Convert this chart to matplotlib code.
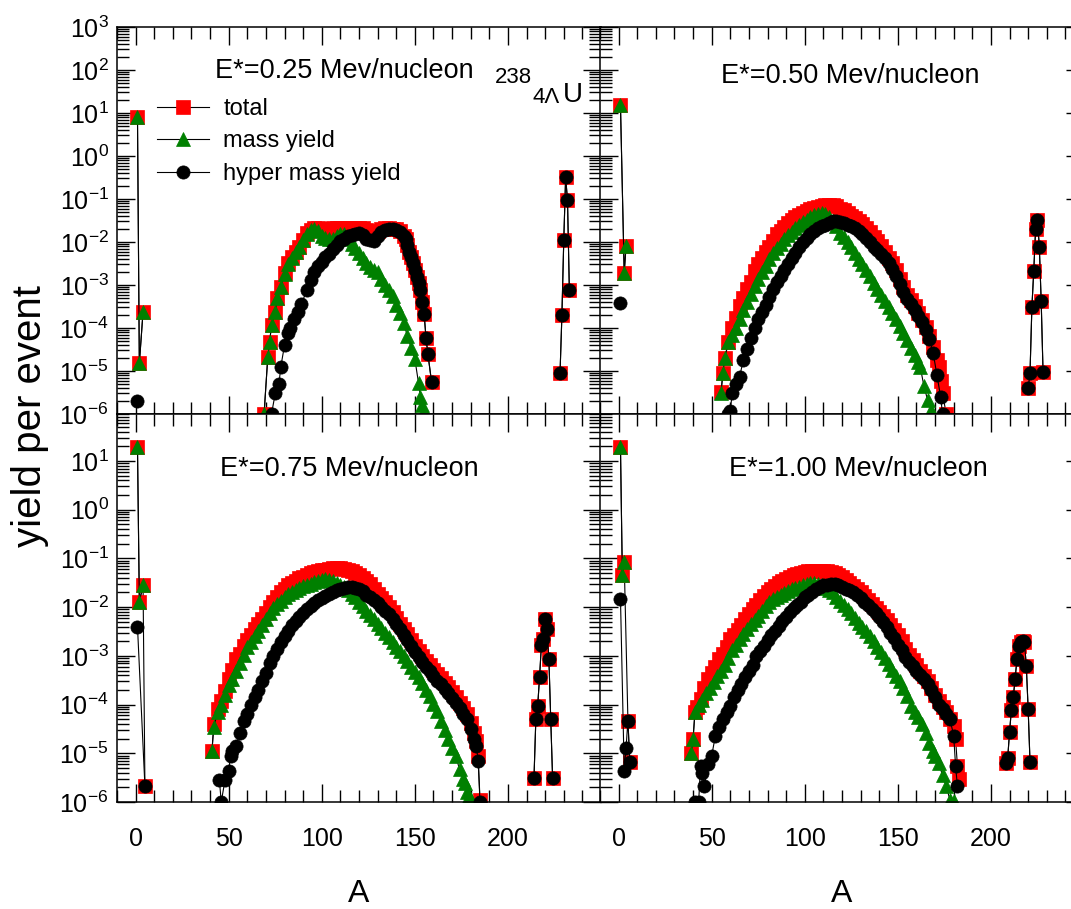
import matplotlib.pyplot as plt
import numpy as np
from matplotlib.ticker import FixedLocator, LogLocator, MultipleLocator, NullFormatter

plt.rcParams['font.family'] = ['Liberation Sans', 'DejaVu Sans']
plt.rcParams['mathtext.fontset'] = 'custom'
plt.rcParams['mathtext.rm'] = 'Liberation Sans'
plt.rcParams['mathtext.default'] = 'regular'
plt.rcParams['axes.linewidth'] = 1.1

# ---- E* = 0.25 MeV/nucleon ----
A_025_TOT = [1, 2, 4,
             69, 71, 72, 73, 75, 76, 78,
             80, 82, 84, 86, 88, 90, 92, 94, 96, 98, 100, 102, 104, 106, 108, 110, 112, 114, 116, 118,
             120, 122, 124, 126, 128, 130, 132, 134, 136, 138, 140, 142, 144,
             145, 146, 147, 148, 149, 150, 151, 152, 153, 154, 155, 156, 157, 159,
             228, 229, 230, 231, 232, 233]
Y_025_TOT = [8.0, 1.5e-5, 2.4e-4,
             1.0e-6, 2.1e-5, 4.7e-5, 1.2e-4, 2.3e-4, 5.0e-4, 8.9e-4,
             1.9e-3, 3.2e-3, 4.5e-3, 6.0e-3, 7.5e-3, 1.1e-2, 1.6e-2, 1.9e-2, 2.1e-2, 2.1e-2,
             2.0e-2, 1.9e-2, 2.0e-2, 2.1e-2, 2.1e-2, 2.15e-2, 2.15e-2, 2.15e-2, 2.15e-2, 2.1e-2,
             2.1e-2, 2.1e-2, 1.9e-2, 1.7e-2, 1.6e-2, 1.8e-2, 2.0e-2, 2.1e-2, 2.1e-2, 2.05e-2, 2.0e-2, 1.8e-2, 1.4e-2,
             1.2e-2, 8.5e-3, 6.0e-3, 4.5e-3, 3.2e-3, 2.2e-3, 1.5e-3, 1.1e-3, 7.6e-4, 4.0e-4, 2.1e-4, 5.8e-5, 2.5e-5, 5.5e-6,
             9.0e-6, 2.0e-4, 1.1e-2, 0.32, 9.5e-2, 7.6e-4]
A_025_MASS = [1, 2, 4,
              69, 71, 72, 73, 75, 76, 78,
              80, 82, 84, 86, 88, 90, 92, 94, 96, 98, 100, 102, 104, 106, 108, 110, 112, 114, 116, 118,
              120, 122, 124, 126, 128, 130, 132, 134, 136, 138, 140, 142, 144, 146, 148, 150, 152,
              153, 154, 155]
Y_025_MASS = [8.0, 1.5e-5, 2.4e-4,
              1.0e-6, 2.1e-5, 4.7e-5, 1.2e-4, 2.3e-4, 5.0e-4, 8.9e-4,
              1.8e-3, 3.0e-3, 4.3e-3, 5.8e-3, 7.5e-3, 1.1e-2, 1.5e-2, 1.9e-2, 2.0e-2, 1.8e-2,
              1.4e-2, 1.25e-2, 1.2e-2, 1.15e-2, 1.35e-2, 1.5e-2, 1.5e-2, 1.2e-2, 9.0e-3, 7.2e-3,
              5.5e-3, 4.2e-3, 3.2e-3, 2.6e-3, 2.2e-3, 2.0e-3, 1.4e-3, 1.0e-3, 7.5e-4, 5.5e-4,
              3.5e-4, 2.2e-4, 1.3e-4, 6.5e-5, 3.5e-5, 1.9e-5, 5.2e-6,
              2.5e-6, 1.6e-6, 1.2e-6]
A_025_HYP = [1,
             73, 75, 77, 78, 80, 82, 83, 85, 87, 89, 92, 94,
             96, 98, 100, 102, 104, 106, 108, 110, 112, 114, 116, 118, 120, 122, 124, 126, 128,
             130, 132, 134, 136, 138, 140, 142, 144,
             145, 146, 147, 148, 149, 150, 151, 152, 153, 154, 155, 156, 157, 159,
             228, 229, 230, 231, 232, 233]
Y_025_HYP = [2.0e-6,
             1.0e-6, 3.0e-6, 5.0e-6, 1.26e-5, 4.0e-5, 7.5e-5, 1.0e-4, 1.6e-4, 2.3e-4, 3.6e-4, 7.6e-4, 1.3e-3,
             2.0e-3, 2.8e-3, 3.5e-3, 4.5e-3, 5.4e-3, 7.0e-3, 8.5e-3, 1.05e-2, 1.2e-2, 1.35e-2, 1.45e-2, 1.55e-2,
             1.6e-2, 1.45e-2, 1.2e-2, 1.1e-2, 1.07e-2,
             1.4e-2, 1.7e-2, 1.9e-2, 2.0e-2, 2.0e-2, 1.9e-2, 1.75e-2, 1.35e-2,
             1.2e-2, 8.5e-3, 6.0e-3, 4.5e-3, 3.2e-3, 2.2e-3, 1.5e-3, 1.1e-3, 7.6e-4, 4.0e-4, 2.1e-4, 5.8e-5, 2.5e-5, 5.5e-6,
             9.0e-6, 2.0e-4, 1.1e-2, 0.32, 9.5e-2, 7.6e-4]

# ---- E* = 0.50 MeV/nucleon ----
A_050_TOT = [1, 3, 4,
             55, 56, 57,
             59, 61, 63, 65, 67, 69, 71, 73, 75, 77, 79, 81, 83, 85, 87, 89, 91, 93, 95, 97,
             99, 101, 103, 105, 107, 109, 111, 113, 115, 117, 119, 121, 123, 125, 127, 129, 131, 133, 135, 137,
             139, 141, 143, 145, 147, 149, 151, 153, 155, 157, 159, 161, 163, 165, 167, 169, 171,
             172, 173, 174, 176,
             220, 221, 222, 223, 224, 225, 226, 227, 228]
Y_050_TOT = [15.0, 1.9e-3, 8.0e-3,
             3.2e-6, 8.9e-6, 2.0e-5,
             4.7e-5, 1.0e-4, 1.7e-4, 3.2e-4, 5.0e-4, 8.0e-4, 1.2e-3, 2.1e-3, 3.0e-3, 4.2e-3,
             5.8e-3, 7.5e-3, 1.05e-2, 1.5e-2, 1.8e-2, 2.2e-2, 2.8e-2, 3.2e-2, 3.8e-2, 4.2e-2,
             4.7e-2, 5.2e-2, 5.8e-2, 6.2e-2, 6.6e-2, 7.0e-2, 7.3e-2, 7.4e-2, 7.2e-2, 6.7e-2,
             6.0e-2, 5.5e-2, 4.8e-2, 4.1e-2, 3.6e-2, 3.1e-2, 2.6e-2, 2.1e-2, 1.7e-2, 1.3e-2,
             1.05e-2, 8.0e-3, 6.0e-3, 4.2e-3, 3.3e-3, 2.2e-3, 1.4e-3, 9.0e-4, 6.0e-4, 4.5e-4,
             3.2e-4, 2.2e-4, 1.5e-4, 1.05e-4, 6.5e-5, 3.6e-5, 1.8e-5,
             1.26e-5, 6.0e-6, 3.0e-6, 1.0e-6,
             4.0e-6, 8.9e-6, 3.0e-4, 2.1e-3, 2.0e-2, 3.3e-2, 7.8e-3, 4.2e-4, 9.5e-6]
A_050_MASS = [1, 3, 4,
              55, 56, 57,
              59, 61, 63, 65, 67, 69, 71, 73, 75, 77, 79, 81, 83, 85, 87, 89, 91, 93, 95, 97,
              99, 101, 103, 105, 107, 109, 111, 113, 115, 117, 119, 121, 123, 125, 127, 129, 131, 133, 135, 137,
              139, 141, 143, 145, 147, 149, 151, 153, 155, 157, 159, 161,
              162, 164, 166, 168]
Y_050_MASS = [15.0, 1.9e-3, 8.0e-3,
              3.0e-6, 8.9e-6, 2.0e-5,
              4.7e-5, 7.0e-5, 1.0e-4, 1.6e-4, 2.6e-4, 4.0e-4, 6.3e-4, 9.5e-4, 1.4e-3, 2.0e-3,
              2.8e-3, 4.0e-3, 5.5e-3, 7.2e-3, 9.0e-3, 1.15e-2, 1.45e-2, 1.75e-2, 2.1e-2, 2.5e-2,
              2.9e-2, 3.2e-2, 3.8e-2, 4.2e-2, 4.5e-2, 4.7e-2, 4.5e-2, 3.8e-2, 3.0e-2, 2.3e-2,
              1.6e-2, 1.3e-2, 1.0e-2, 7.5e-3, 5.5e-3, 4.0e-3, 3.0e-3, 2.2e-3, 1.6e-3, 1.1e-3,
              8.0e-4, 6.0e-4, 4.2e-4, 3.0e-4, 2.2e-4, 1.6e-4, 1.1e-4, 7.5e-5, 5.4e-5, 3.5e-5,
              2.4e-5, 1.6e-5,
              1.26e-5, 4.5e-6, 2.1e-6, 1.26e-6]
A_050_HYP = [1,
             59, 60, 61,
             63, 65, 67, 69, 71, 73, 75, 77, 79, 81, 83, 85, 87, 89, 91, 93, 95, 97, 99, 101,
             103, 105, 107, 109, 111, 113, 115, 117, 119, 121, 123, 125, 127, 129, 131, 133, 135, 137, 139, 141,
             143, 145, 147, 149, 151, 153, 155, 157, 159, 161, 163, 165, 167, 169, 171, 173,
             174,
             220, 221, 222, 223, 224, 225, 226, 227, 228]
Y_050_HYP = [3.9e-4,
             1.0e-6, 1.2e-6, 3.0e-6,
             5.0e-6, 7.4e-6, 1.8e-5, 3.2e-5, 6.0e-5, 1.0e-4, 1.6e-4, 2.4e-4, 3.5e-4, 5.2e-4,
             8.0e-4, 1.15e-3, 1.6e-3, 2.2e-3, 3.0e-3, 4.2e-3, 5.5e-3, 7.5e-3, 1.0e-2, 1.25e-2,
             1.5e-2, 1.8e-2, 2.1e-2, 2.3e-2, 2.5e-2, 2.8e-2, 3.0e-2, 3.0e-2, 2.9e-2, 2.7e-2,
             2.5e-2, 2.3e-2, 2.1e-2, 1.8e-2, 1.5e-2, 1.25e-2, 1.0e-2, 7.8e-3, 6.5e-3, 5.3e-3,
             4.3e-3, 3.2e-3, 2.4e-3, 1.6e-3, 1.05e-3, 7.0e-4, 4.7e-4, 3.6e-4, 2.6e-4, 1.9e-4,
             1.4e-4, 9.0e-5, 5.5e-5, 2.6e-5, 8.0e-6, 2.5e-6,
             1.0e-6,
             4.0e-6, 8.9e-6, 3.0e-4, 2.1e-3, 2.0e-2, 3.3e-2, 7.8e-3, 4.2e-4, 9.5e-6]

# ---- E* = 0.75 MeV/nucleon ----
A_075_TOT = [1, 2, 4, 5,
             41, 42,
             44, 46, 48, 50, 52, 54, 56, 58, 60, 62, 64, 66, 68, 70, 72, 74, 76, 78, 80, 82,
             84, 86, 88, 90, 92, 94, 96, 98, 100, 102, 104, 106, 108, 110, 112, 114, 116, 118, 120, 122,
             124, 126, 128, 130, 132, 134, 136, 138, 140, 142, 144, 146, 148, 150, 152, 154, 156, 158, 160, 162,
             164, 166, 168, 170, 172, 174, 176, 178, 180, 182,
             183, 184, 185,
             214, 215, 216, 217, 218, 219, 220, 221, 222, 223, 224]
Y_075_TOT = [19.5, 1.3e-2, 2.8e-2, 2.1e-6,
             1.1e-5, 4.0e-5,
             8.0e-5, 1.2e-4, 1.9e-4, 3.4e-4, 5.2e-4, 8.7e-4, 1.1e-3, 1.6e-3, 2.1e-3, 2.7e-3,
             3.5e-3, 4.4e-3, 5.7e-3, 7.5e-3, 1.0e-2, 1.3e-2, 1.6e-2, 2.0e-2, 2.4e-2, 2.8e-2,
             3.1e-2, 3.5e-2, 3.9e-2, 4.2e-2, 4.5e-2, 4.9e-2, 5.2e-2, 5.5e-2, 5.7e-2, 5.9e-2,
             6.2e-2, 6.4e-2, 6.5e-2, 6.4e-2, 6.2e-2, 5.8e-2, 5.4e-2, 5.0e-2, 4.5e-2, 3.9e-2,
             3.5e-2, 3.0e-2, 2.4e-2, 1.9e-2, 1.55e-2, 1.25e-2, 1.0e-2, 7.8e-3, 6.0e-3, 4.6e-3,
             3.5e-3, 2.8e-3, 2.1e-3, 1.6e-3, 1.25e-3, 1.0e-3, 8.0e-4, 6.5e-4, 5.2e-4, 4.2e-4,
             3.5e-4, 2.8e-4, 2.3e-4, 1.8e-4, 1.45e-4, 1.1e-4, 8.5e-5, 6.5e-5, 4.2e-5, 2.6e-5,
             1.8e-5, 9.0e-6, 1.1e-6,
             3.1e-6, 5.0e-5, 9.5e-5, 3.7e-4, 1.7e-3, 2.2e-3, 5.8e-3, 3.5e-3, 8.7e-4, 5.0e-5, 3.1e-6]
A_075_MASS = [1, 2, 4,
              41, 42,
              44, 46, 48, 50, 52, 54, 56, 58, 60, 62, 64, 66, 68, 70, 72, 74, 76, 78, 80, 82,
              84, 86, 88, 90, 92, 94, 96, 98, 100, 102, 104, 106, 108, 110, 112, 114, 116, 118, 120, 122,
              124, 126, 128, 130, 132, 134, 136, 138, 140, 142, 144, 146, 148, 150, 152, 154, 156, 158, 160, 162,
              164, 166, 168, 170, 172, 174, 176,
              177, 178, 179]
Y_075_MASS = [19.5, 1.3e-2, 2.8e-2,
              1.1e-5, 3.5e-5,
              6.9e-5, 1.0e-4, 1.6e-4, 2.5e-4, 3.3e-4, 4.8e-4, 7.0e-4, 1.05e-3, 1.5e-3, 1.9e-3,
              2.5e-3, 3.2e-3, 4.2e-3, 5.8e-3, 7.5e-3, 9.5e-3, 1.15e-2, 1.35e-2, 1.6e-2, 1.85e-2,
              2.05e-2, 2.25e-2, 2.45e-2, 2.65e-2, 2.85e-2, 3.05e-2, 3.25e-2, 3.45e-2, 3.6e-2, 3.7e-2,
              3.6e-2, 3.5e-2, 3.2e-2, 2.9e-2, 2.6e-2, 2.2e-2, 1.85e-2, 1.6e-2, 1.3e-2, 1.05e-2,
              8.5e-3, 7.0e-3, 5.7e-3, 4.6e-3, 3.7e-3, 3.0e-3, 2.4e-3, 1.9e-3, 1.5e-3, 1.25e-3,
              1.0e-3, 7.8e-4, 6.0e-4, 4.6e-4, 3.6e-4, 2.8e-4, 2.0e-4, 1.5e-4, 1.05e-4, 7.5e-5,
              4.6e-5, 3.0e-5, 2.0e-5, 1.3e-5, 8.7e-6, 4.7e-6, 3.0e-6,
              2.5e-6, 1.6e-6, 1.3e-6]
A_075_HYP = [1, 5,
             45, 46, 48, 50, 51,
             52, 54, 56, 58, 60, 62, 64, 66, 68, 70, 72, 74, 76, 78, 80, 82, 84, 86, 88, 90,
             92, 94, 96, 98, 100, 102, 104, 106, 108, 110, 112, 114, 116, 118, 120, 122, 124, 126, 128, 130,
             132, 134, 136, 138, 140, 142, 144, 146, 148, 150, 152, 154, 156, 158, 160, 162, 164, 166, 168, 170,
             172, 174, 176, 178, 180, 182,
             183, 184, 185,
             214, 215, 216, 217, 218, 219, 220, 221, 222, 223, 224]
Y_075_HYP = [4.0e-3, 2.1e-6,
             2.8e-6, 1.0e-6, 2.8e-6, 4.4e-6, 8.9e-6,
             1.1e-5, 1.4e-5, 2.6e-5, 4.5e-5, 6.5e-5, 1.0e-4, 1.4e-4, 2.0e-4, 3.0e-4, 4.5e-4,
             7.0e-4, 1.0e-3, 1.4e-3, 1.9e-3, 2.5e-3, 3.3e-3, 4.2e-3, 5.2e-3, 6.3e-3, 7.6e-3,
             9.0e-3, 1.05e-2, 1.2e-2, 1.4e-2, 1.55e-2, 1.7e-2, 1.85e-2, 2.0e-2, 2.2e-2, 2.35e-2,
             2.45e-2, 2.55e-2, 2.6e-2, 2.5e-2, 2.35e-2, 2.1e-2, 1.8e-2, 1.6e-2, 1.4e-2, 1.2e-2,
             1.0e-2, 8.5e-3, 7.2e-3, 5.8e-3, 4.6e-3, 3.5e-3, 2.7e-3, 2.1e-3, 1.6e-3, 1.2e-3,
             9.5e-4, 7.5e-4, 6.0e-4, 4.8e-4, 3.8e-4, 3.1e-4, 2.6e-4, 2.1e-4, 1.7e-4, 1.35e-4,
             1.1e-4, 8.5e-5, 6.5e-5, 5.0e-5, 3.2e-5, 2.0e-5,
             1.4e-5, 7.0e-6, 1.0e-6,
             3.1e-6, 5.0e-5, 9.5e-5, 3.7e-4, 1.7e-3, 2.2e-3, 5.8e-3, 3.5e-3, 8.7e-4, 5.0e-5, 3.1e-6]

# ---- E* = 1.00 MeV/nucleon ----
A_100_TOT = [1, 2, 3, 5, 6,
             39, 40, 41,
             42, 44, 46, 48, 50, 52, 54, 56, 58, 60, 62, 64, 66, 68, 70, 72, 74, 76, 78, 80,
             82, 84, 86, 88, 90, 92, 94, 96, 98, 100, 102, 104, 106, 108, 110, 112, 114, 116, 118, 120,
             122, 124, 126, 128, 130, 132, 134, 136, 138, 140, 142, 144, 146, 148, 150, 152, 154, 156, 158, 160,
             162, 164, 166, 168, 170, 172, 174, 176, 178, 180,
             181, 182, 183,
             208, 209, 210, 211, 212, 213, 214, 215, 216, 217, 218, 219, 220, 221]
Y_100_TOT = [19.0, 4.5e-2, 8.5e-2, 4.7e-5, 6.6e-6,
             1.0e-5, 2.0e-5, 6.9e-5,
             9.0e-5, 1.3e-4, 2.2e-4, 3.3e-4, 4.4e-4, 6.0e-4, 8.5e-4, 1.1e-3, 1.5e-3, 2.2e-3,
             2.7e-3, 3.4e-3, 4.3e-3, 5.8e-3, 7.2e-3, 9.0e-3, 1.1e-2, 1.4e-2, 1.7e-2, 2.0e-2,
             2.3e-2, 2.7e-2, 3.1e-2, 3.4e-2, 3.8e-2, 4.1e-2, 4.5e-2, 4.8e-2, 5.1e-2, 5.3e-2,
             5.5e-2, 5.6e-2, 5.6e-2, 5.6e-2, 5.5e-2, 5.5e-2, 5.3e-2, 5.0e-2, 4.6e-2, 4.1e-2,
             3.6e-2, 3.1e-2, 2.7e-2, 2.3e-2, 2.0e-2, 1.7e-2, 1.4e-2, 1.15e-2, 9.7e-3, 8.0e-3,
             6.6e-3, 5.4e-3, 4.2e-3, 3.4e-3, 2.7e-3, 2.0e-3, 1.4e-3, 1.05e-3, 8.2e-4, 6.5e-4,
             5.0e-4, 3.9e-4, 3.0e-4, 2.2e-4, 1.6e-4, 1.2e-4, 9.0e-5, 6.9e-5, 5.0e-5, 3.7e-5,
             2.0e-5, 5.6e-6, 3.0e-6,
             6.3e-6, 7.9e-6, 2.7e-5, 7.9e-5, 1.4e-4, 3.4e-4, 8.7e-4, 1.6e-3, 1.9e-3, 2.0e-3,
             1.9e-3, 6.3e-4, 8.1e-5, 6.6e-6]
A_100_MASS = [1, 2, 3,
              39, 40, 41,
              43, 45, 47, 49, 51, 53, 55, 57, 59, 61, 63, 65, 67, 69, 71, 73, 75, 77, 79, 81,
              83, 85, 87, 89, 91, 93, 95, 97, 99, 101, 103, 105, 107, 109, 111, 113, 115, 117, 119, 121,
              123, 125, 127, 129, 131, 133, 135, 137, 139, 141, 143, 145, 147, 149, 151, 153, 155, 157, 159, 161,
              163, 165, 167, 169,
              170, 172, 174, 176, 178, 180]
Y_100_MASS = [19.0, 4.5e-2, 8.5e-2,
              1.0e-5, 2.0e-5, 6.9e-5,
              1.0e-4, 1.26e-4, 1.7e-4, 2.2e-4, 2.9e-4, 3.8e-4, 5.0e-4, 6.5e-4, 9.0e-4, 1.3e-3,
              1.7e-3, 2.2e-3, 2.8e-3, 3.5e-3, 4.4e-3, 5.5e-3, 6.7e-3, 8.5e-3, 1.05e-2, 1.25e-2,
              1.45e-2, 1.6e-2, 1.75e-2, 1.95e-2, 2.1e-2, 2.3e-2, 2.45e-2, 2.6e-2, 2.8e-2, 3.0e-2,
              3.2e-2, 3.2e-2, 3.0e-2, 2.8e-2, 2.5e-2, 2.25e-2, 2.0e-2, 1.6e-2, 1.35e-2, 1.1e-2,
              9.3e-3, 7.5e-3, 6.0e-3, 4.8e-3, 4.0e-3, 3.2e-3, 2.6e-3, 2.0e-3, 1.5e-3, 1.2e-3,
              9.0e-4, 6.8e-4, 5.2e-4, 3.9e-4, 3.0e-4, 2.2e-4, 1.5e-4, 9.5e-5, 7.0e-5, 5.5e-5,
              4.0e-5, 2.6e-5, 1.6e-5, 1.1e-5,
              8.9e-6, 6.3e-6, 3.5e-6, 2.1e-6, 1.1e-6, 1.05e-6]
A_100_HYP = [1, 3, 4, 5, 6,
             41, 43, 44, 45, 46,
             48, 50, 52, 54, 56, 58, 60, 62, 64, 66, 68, 70, 72, 74, 76, 78, 80, 82, 84, 86,
             88, 90, 92, 94, 96, 98, 100, 102, 104, 106, 108, 110, 112, 114, 116, 118, 120, 122, 124, 126,
             128, 130, 132, 134, 136, 138, 140, 142, 144, 146, 148, 150, 152, 154, 156, 158, 160, 162, 164, 166,
             168, 170, 172, 174, 176, 178, 180,
             181, 182,
             208, 209, 210, 211, 212, 213, 214, 215, 216, 217, 218, 219, 220, 221]
Y_100_HYP = [1.5e-2, 4.4e-6, 1.3e-5, 4.7e-5, 6.6e-6,
             1.0e-6, 1.0e-6, 5.6e-6, 4.0e-6, 2.1e-6,
             6.0e-6, 8.9e-6, 2.3e-5, 3.5e-5, 5.0e-5, 7.0e-5, 9.5e-5, 1.4e-4, 2.0e-4, 2.7e-4,
             3.6e-4, 4.8e-4, 6.5e-4, 1.0e-3, 1.25e-3, 1.6e-3, 2.1e-3, 2.7e-3, 3.3e-3, 4.1e-3,
             5.1e-3, 6.3e-3, 7.9e-3, 9.5e-3, 1.1e-2, 1.3e-2, 1.6e-2, 1.8e-2, 2.0e-2, 2.3e-2,
             2.6e-2, 2.8e-2, 2.9e-2, 3.0e-2, 3.0e-2, 2.8e-2, 2.6e-2, 2.4e-2, 2.2e-2, 2.0e-2,
             1.75e-2, 1.55e-2, 1.3e-2, 1.1e-2, 9.0e-3, 7.7e-3, 6.3e-3, 5.0e-3, 3.9e-3, 3.0e-3,
             2.3e-3, 1.7e-3, 1.3e-3, 9.5e-4, 7.5e-4, 6.2e-4, 5.0e-4, 4.0e-4, 3.4e-4, 2.6e-4,
             2.0e-4, 1.4e-4, 1.0e-4, 8.0e-5, 6.5e-5, 5.0e-5, 2.3e-5,
             5.6e-6, 2.1e-6,
             6.3e-6, 7.9e-6, 2.7e-5, 7.9e-5, 1.4e-4, 3.4e-4, 8.7e-4, 1.6e-3, 1.9e-3, 2.0e-3,
             1.9e-3, 6.3e-4, 8.1e-5, 6.6e-6]

TITLES = ['E*=0.25 Mev/nucleon', 'E*=0.50 Mev/nucleon', 'E*=0.75 Mev/nucleon', 'E*=1.00 Mev/nucleon']
SERIES_NAMES = ['total', 'mass yield', 'hyper mass yield']
X_TICKS = [0, 50, 100, 150, 200]

DATA = [
    [(A_025_TOT, Y_025_TOT), (A_025_MASS, Y_025_MASS), (A_025_HYP, Y_025_HYP)],
    [(A_050_TOT, Y_050_TOT), (A_050_MASS, Y_050_MASS), (A_050_HYP, Y_050_HYP)],
    [(A_075_TOT, Y_075_TOT), (A_075_MASS, Y_075_MASS), (A_075_HYP, Y_075_HYP)],
    [(A_100_TOT, Y_100_TOT), (A_100_MASS, Y_100_MASS), (A_100_HYP, Y_100_HYP)],
]

# marker style per series: total, mass yield, hyper mass yield
STYLES = [dict(marker='s', ms=9.5, color='#ff0000'),
          dict(marker='^', ms=10.5, color='#008000'),
          dict(marker='o', ms=9.5, color='black')]


def draw_series(ax, a, y, style):
    """plot one series, breaking the line between separated groups of A"""
    a = np.asarray(a, dtype=float)
    y = np.asarray(y, dtype=float)
    cuts = np.where(np.diff(a) > 5)[0] + 1
    first = None
    for aa, yy in zip(np.split(a, cuts), np.split(y, cuts)):
        ln, = ax.plot(aa, yy, color='black', lw=0.8, marker=style['marker'], ms=style['ms'],
                      mfc=style['color'], mec=style['color'], mew=0.5)
        if first is None:
            first = ln
    return first


fig = plt.figure(figsize=(10.71, 9.09), dpi=100)
W, H = 1071, 909
# axes boxes in pixels: left, top, width, height
BOXES = [(117, 27, 484, 387), (600, 27, 484, 387), (117, 414, 484, 388), (600, 414, 484, 388)]
TITLE_POS = [(0.469, 0.867), (0.517, 0.855), (0.479, 0.840), (0.533, 0.840)]

axes = []
for k, (l, t, w, h) in enumerate(BOXES):
    ax = fig.add_axes([l / W, 1 - (t + h) / H, w / W, h / H])
    handles = []
    for (a, y), st in zip(DATA[k], STYLES):
        handles.append(draw_series(ax, a, y, st))

    ax.set_yscale('log')
    ax.set_xlim(-10, 250)
    if k < 2:
        ax.set_ylim(1e-6, 1e3)
    else:
        ax.set_ylim(1e-6, 92)

    ax.xaxis.set_major_locator(FixedLocator(X_TICKS))
    ax.xaxis.set_minor_locator(MultipleLocator(10))
    ax.yaxis.set_major_locator(LogLocator(base=10, numticks=20))
    ax.yaxis.set_minor_locator(LogLocator(base=10, subs=np.arange(2, 10), numticks=20))
    ax.yaxis.set_minor_formatter(NullFormatter())
    ax.tick_params(which='both', direction='in', top=True, right=True, width=1.0)
    ax.tick_params(which='major', length=13, labelsize=18)
    ax.tick_params(which='minor', length=8.5)
    ax.tick_params(axis='x', pad=18)
    ax.tick_params(axis='y', pad=6)
    if k < 2:
        ax.tick_params(axis='x', labelbottom=False)
    if k % 2 == 1:
        ax.tick_params(axis='y', labelleft=False)

    tx, ty = TITLE_POS[k]
    ax.text(tx, ty, TITLES[k], transform=ax.transAxes, ha='center', va='baseline', fontsize=19.5)

    if k == 0:
        ax.legend(handles, SERIES_NAMES, loc='upper left', bbox_to_anchor=(0.083, 0.817),
                  frameon=False, fontsize=17, handlelength=2.2, handletextpad=0.6,
                  labelspacing=0.45, borderpad=0, borderaxespad=0, numpoints=1)
        # nucleus label 238 4Lambda U
        ax.text(0.781, 0.855, '238', transform=ax.transAxes, ha='left', va='baseline', fontsize=16)
        ax.text(0.859, 0.804, '4\u039b', transform=ax.transAxes, ha='left', va='baseline', fontsize=16)
        ax.text(0.921, 0.806, 'U', transform=ax.transAxes, ha='left', va='baseline', fontsize=20)
    axes.append(ax)

fig.text(30 / W, 1 - 416 / H, 'yield per event', rotation=90, ha='center', va='center', fontsize=29)
for ax in axes[2:]:
    pos = ax.get_position()
    fig.text(pos.x0 + pos.width / 2, 0.0, 'A', ha='center', va='bottom', fontsize=23)

fig.savefig('out.png', dpi=100)
